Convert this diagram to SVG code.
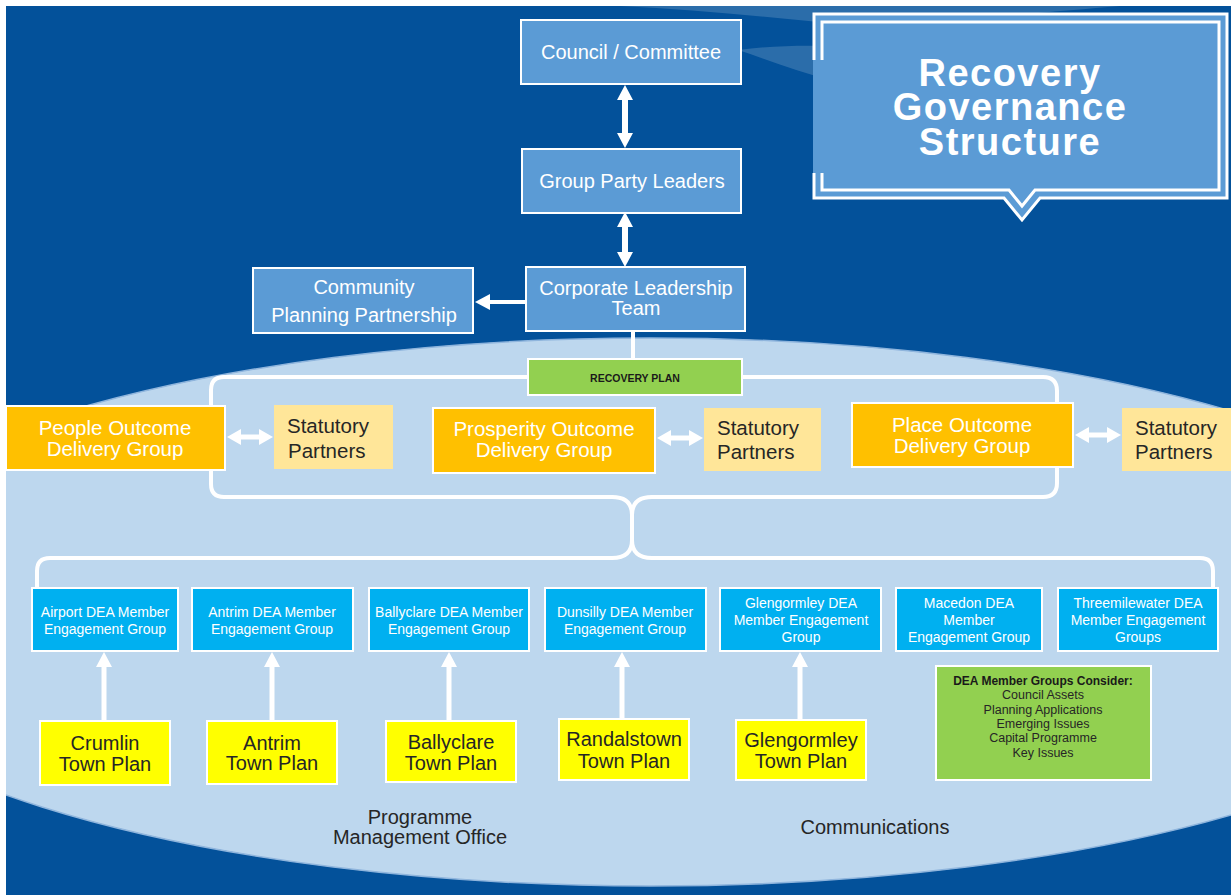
<svg xmlns="http://www.w3.org/2000/svg" width="1231" height="895" viewBox="0 0 1231 895">
  <style>
    text { font-family: "Liberation Sans", Arial, sans-serif; }
    .mid { text-anchor: middle; }
    .w { fill: #ffffff; }
    .dk { fill: #262626; }
    .f20 { font-size: 20px; }
    .f21 { font-size: 20.5px; }
    .f14 { font-size: 14px; }
    .f12 { font-size: 12.5px; }
    .ttl { font-size: 38px; font-weight: bold; letter-spacing: 1.5px; }
    .lead { fill: #5B9BD5; stroke: #ffffff; stroke-width: 2; }
    .outcome { fill: #FFC000; stroke: #ffffff; stroke-width: 2; }
    .partner { fill: #FFE699; }
    .dea { fill: #00B0F0; stroke: #ffffff; stroke-width: 2; }
    .town { fill: #FFFF00; stroke: #ffffff; stroke-width: 2; }
    .plan { fill: #92D050; stroke: #ffffff; stroke-width: 2; }
    .brace { fill: none; stroke: #ffffff; stroke-width: 4; stroke-linecap: round; stroke-linejoin: round; }
    .shaft { stroke: #ffffff; fill: none; }
  </style>
  <defs>
    <clipPath id="page">
      <rect x="6" y="6" width="1225" height="889"/>
    </clipPath>
    <!-- block arrowheads, base at the line end -->
    <marker id="headL" viewBox="0 0 15 16" refX="0" refY="8" markerWidth="15" markerHeight="16" markerUnits="userSpaceOnUse" orient="auto-start-reverse">
      <path d="M0,0 L15,8 L0,16 Z" fill="#ffffff"/>
    </marker>
    <marker id="headS" viewBox="0 0 14 16" refX="0" refY="8" markerWidth="14" markerHeight="16" markerUnits="userSpaceOnUse" orient="auto-start-reverse">
      <path d="M0,0 L14,8 L0,16 Z" fill="#ffffff"/>
    </marker>
  </defs>

  <!-- page background -->
  <rect x="0" y="0" width="1231" height="895" fill="#ffffff"/>
  <rect x="6" y="6" width="1225" height="889" fill="#03519A"/>
  <g clip-path="url(#page)">
    <!-- faint swooshes across the top -->
    <path d="M620,6 C700,10 780,18 860,26 C960,20 1050,12 1120,6 Z" fill="#ffffff" opacity="0.16"/>
    <path d="M738,50 C770,46 800,45 830,46 L830,80 C800,72 768,60 738,50 Z" fill="#ffffff" opacity="0.16"/>
    <!-- light oval field: rounder top, slightly flatter bottom -->
    <path d="M-210,616 A860,278 0 0 1 1510,616 A860,270 0 0 1 -210,616 Z" fill="#BDD7EE" stroke="#8FB5DD" stroke-width="1.5"/>
  </g>

  <!-- title callout -->
  <g id="title">
    <path d="M813,13 H1228 V199 H1040 L1022,221 L1004,199 H813 Z" fill="#5B9BD5"/>
    <path d="M814,60 V14 H1227 V198 H1040 L1022,220 L1004,198 H814 V173" fill="none" stroke="#ffffff" stroke-width="3"/>
    <path d="M822,60 V22 H1219 V190 H1035 L1022,206 L1009,190 H822 V173" fill="none" stroke="#ffffff" stroke-width="3"/>
    <text class="w mid ttl" x="1010" y="86">Recovery</text>
    <text class="w mid ttl" x="1010" y="120">Governance</text>
    <text class="w mid ttl" x="1010" y="155">Structure</text>
  </g>

  <!-- connectors -->
  <g id="connectors">
    <line class="shaft" x1="625" y1="100" x2="625" y2="133" stroke-width="6" marker-start="url(#headL)" marker-end="url(#headL)"/>
    <line class="shaft" x1="625" y1="227" x2="625" y2="252" stroke-width="6" marker-start="url(#headL)" marker-end="url(#headL)"/>
    <line class="shaft" x1="526" y1="302" x2="490" y2="302" stroke-width="4" marker-end="url(#headL)"/>
    <line class="shaft" x1="633" y1="331" x2="633" y2="360" stroke-width="4"/>

    <!-- outcome group bracket -->
    <path class="brace" d="M612,497 H224 Q211,497 211,484 V390 Q211,377 224,377 H1043 Q1057,377 1057,391 V483 Q1057,497 1043,497 H652"/>
    <path class="brace" d="M612,497 Q632,497 632,515 Q632,497 652,497 M632,515 V540 M612,558 Q632,558 632,540 Q632,558 652,558"/>
    <!-- DEA bracket -->
    <path class="brace" d="M612,558 H50 Q37,558 37,571 V588 M652,558 H1200 Q1213,558 1213,571 V588"/>

    <!-- outcome groups to statutory partners -->
    <line class="shaft" x1="241" y1="437" x2="259" y2="437" stroke-width="5" marker-start="url(#headS)" marker-end="url(#headS)"/>
    <line class="shaft" x1="671" y1="438" x2="689" y2="438" stroke-width="5" marker-start="url(#headS)" marker-end="url(#headS)"/>
    <line class="shaft" x1="1089" y1="435" x2="1107" y2="435" stroke-width="5" marker-start="url(#headS)" marker-end="url(#headS)"/>

    <!-- town plans feeding DEA groups -->
    <line class="shaft" x1="104" y1="721" x2="104" y2="667" stroke-width="5" marker-end="url(#headL)"/>
    <line class="shaft" x1="272" y1="721" x2="272" y2="667" stroke-width="5" marker-end="url(#headL)"/>
    <line class="shaft" x1="449" y1="721" x2="449" y2="667" stroke-width="5" marker-end="url(#headL)"/>
    <line class="shaft" x1="622" y1="719" x2="622" y2="667" stroke-width="5" marker-end="url(#headL)"/>
    <line class="shaft" x1="800" y1="719" x2="800" y2="667" stroke-width="5" marker-end="url(#headL)"/>
  </g>

  <!-- governance chain -->
  <g id="council">
    <rect class="lead" x="521" y="20" width="220" height="64"/>
    <text class="w mid f20" x="631" y="59">Council / Committee</text>
  </g>
  <g id="party-leaders">
    <rect class="lead" x="522" y="149" width="219" height="64"/>
    <text class="w mid f20" x="632" y="188">Group Party Leaders</text>
  </g>
  <g id="clt">
    <rect class="lead" x="526" y="267" width="219" height="64"/>
    <text class="w mid f20" x="636" y="295">Corporate Leadership</text>
    <text class="w mid f20" x="636" y="315">Team</text>
  </g>
  <g id="cpp">
    <rect class="lead" x="253" y="268" width="220" height="65"/>
    <text class="w mid f20" x="364" y="294">Community</text>
    <text class="w mid f20" x="364" y="322">Planning Partnership</text>
  </g>
  <g id="recovery-plan">
    <rect class="plan" x="528" y="359" width="214" height="36"/>
    <text class="mid" x="635" y="382" font-size="10.5" font-weight="bold" fill="#1a1a1a">RECOVERY PLAN</text>
  </g>

  <!-- outcome delivery groups -->
  <g id="people">
    <rect class="outcome" x="6" y="406" width="219" height="64"/>
    <text class="w mid f21" x="115" y="435">People Outcome</text>
    <text class="w mid f21" x="115" y="456">Delivery Group</text>
  </g>
  <g id="partners-people">
    <rect class="partner" x="274" y="405" width="119" height="64"/>
    <text class="dk f21" x="287" y="433">Statutory</text>
    <text class="dk f21" x="288" y="458">Partners</text>
  </g>
  <g id="prosperity">
    <rect class="outcome" x="433" y="408" width="222" height="65"/>
    <text class="w mid f21" x="544" y="436">Prosperity Outcome</text>
    <text class="w mid f21" x="544" y="457">Delivery Group</text>
  </g>
  <g id="partners-prosperity">
    <rect class="partner" x="704" y="408" width="117" height="63"/>
    <text class="dk f21" x="717" y="435">Statutory</text>
    <text class="dk f21" x="717" y="459">Partners</text>
  </g>
  <g id="place">
    <rect class="outcome" x="852" y="403" width="221" height="64"/>
    <text class="w mid f21" x="962" y="432">Place Outcome</text>
    <text class="w mid f21" x="962" y="453">Delivery Group</text>
  </g>
  <g id="partners-place">
    <rect class="partner" x="1122" y="408" width="109" height="63"/>
    <text class="dk f21" x="1135" y="435">Statutory</text>
    <text class="dk f21" x="1135" y="459">Partners</text>
  </g>

  <!-- DEA member engagement groups -->
  <g id="dea-airport">
    <rect class="dea" x="32" y="588" width="146" height="63"/>
    <text class="w mid f14" x="105" y="617">Airport DEA Member</text>
    <text class="w mid f14" x="105" y="634">Engagement Group</text>
  </g>
  <g id="dea-antrim">
    <rect class="dea" x="192" y="588" width="161" height="63"/>
    <text class="w mid f14" x="272" y="617">Antrim DEA Member</text>
    <text class="w mid f14" x="272" y="634">Engagement Group</text>
  </g>
  <g id="dea-ballyclare">
    <rect class="dea" x="369" y="588" width="160" height="63"/>
    <text class="w mid f14" x="449" y="617">Ballyclare DEA Member</text>
    <text class="w mid f14" x="449" y="634">Engagement Group</text>
  </g>
  <g id="dea-dunsilly">
    <rect class="dea" x="545" y="588" width="161" height="63"/>
    <text class="w mid f14" x="625" y="617">Dunsilly DEA Member</text>
    <text class="w mid f14" x="625" y="634">Engagement Group</text>
  </g>
  <g id="dea-glengormley">
    <rect class="dea" x="720" y="588" width="161" height="63"/>
    <text class="w mid f14" x="801" y="608">Glengormley DEA</text>
    <text class="w mid f14" x="801" y="625">Member Engagement</text>
    <text class="w mid f14" x="801" y="642">Group</text>
  </g>
  <g id="dea-macedon">
    <rect class="dea" x="896" y="588" width="146" height="63"/>
    <text class="w mid f14" x="969" y="608">Macedon DEA</text>
    <text class="w mid f14" x="969" y="625">Member</text>
    <text class="w mid f14" x="969" y="642">Engagement Group</text>
  </g>
  <g id="dea-threemilewater">
    <rect class="dea" x="1058" y="588" width="160" height="63"/>
    <text class="w mid f14" x="1138" y="608">Threemilewater DEA</text>
    <text class="w mid f14" x="1138" y="625">Member Engagement</text>
    <text class="w mid f14" x="1138" y="642">Groups</text>
  </g>

  <!-- town plans -->
  <g id="town-crumlin">
    <rect class="town" x="40" y="721" width="130" height="64"/>
    <text class="dk mid f20" x="105" y="750">Crumlin</text>
    <text class="dk mid f20" x="105" y="771">Town Plan</text>
  </g>
  <g id="town-antrim">
    <rect class="town" x="207" y="721" width="130" height="63"/>
    <text class="dk mid f20" x="272" y="750">Antrim</text>
    <text class="dk mid f20" x="272" y="770">Town Plan</text>
  </g>
  <g id="town-ballyclare">
    <rect class="town" x="386" y="721" width="130" height="61"/>
    <text class="dk mid f20" x="451" y="749">Ballyclare</text>
    <text class="dk mid f20" x="451" y="770">Town Plan</text>
  </g>
  <g id="town-randalstown">
    <rect class="town" x="559" y="719" width="130" height="61"/>
    <text class="dk mid f20" x="624" y="746">Randalstown</text>
    <text class="dk mid f20" x="624" y="768">Town Plan</text>
  </g>
  <g id="town-glengormley">
    <rect class="town" x="736" y="720" width="130" height="60"/>
    <text class="dk mid f20" x="801" y="747">Glengormley</text>
    <text class="dk mid f20" x="801" y="768">Town Plan</text>
  </g>

  <!-- DEA remit note -->
  <g id="dea-remit">
    <rect class="plan" x="936" y="666" width="215" height="114"/>
    <text class="mid" x="1043" y="685" font-size="12" font-weight="bold" fill="#1a1a1a">DEA Member Groups Consider:</text>
    <text class="dk mid f12" x="1043" y="699">Council Assets</text>
    <text class="dk mid f12" x="1043" y="714">Planning Applications</text>
    <text class="dk mid f12" x="1043" y="728">Emerging Issues</text>
    <text class="dk mid f12" x="1043" y="742">Capital Programme</text>
    <text class="dk mid f12" x="1043" y="757">Key Issues</text>
  </g>

  <!-- supporting functions -->
  <g id="pmo">
    <text class="dk mid f20" x="420" y="824">Programme</text>
    <text class="dk mid f20" x="420" y="844">Management Office</text>
  </g>
  <g id="comms">
    <text class="dk mid f20" x="875" y="834">Communications</text>
  </g>
</svg>
